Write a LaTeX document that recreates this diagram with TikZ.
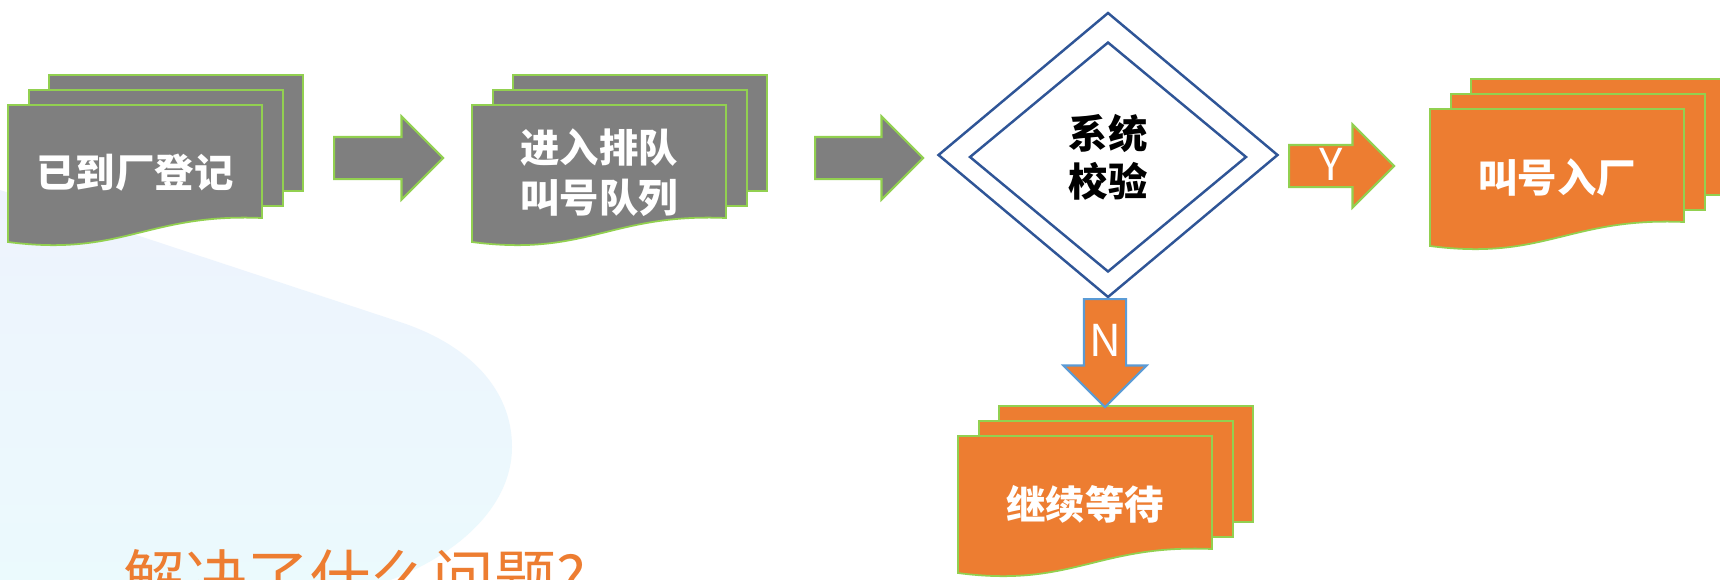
\documentclass[tikz,border=0pt]{standalone}
\usepackage{fontspec}
\newfontfamily\cjk{Noto Sans CJK SC}
\usetikzlibrary{shapes.geometric,shapes.arrows}

\definecolor{docgrey}{HTML}{7F7F7F}
\definecolor{docgreen}{HTML}{92D050}
\definecolor{docorange}{HTML}{ED7D31}
\definecolor{nblue}{HTML}{5B9BD5}
\definecolor{checkblue}{HTML}{2F5597}
\definecolor{blobtop}{HTML}{EEF3FD}
\definecolor{blobbottom}{HTML}{EBFAFD}

\newcommand{\docstack}[5]{%
  \draw[sheet,fill=#4] (#2+41,#3-30) rectangle ++(254,116);
  \draw[sheet,fill=#4] (#2+21,#3-15) rectangle ++(254,116);
  \draw[sheet,fill=#4] (#2,#3) -- ++(254,0) -- ++(0,113)
    .. controls +(-115,-5) and (#2+115,#3+152) .. (#2,#3+137) -- cycle;
  \node (#1) at (#2+127,#3+68) [doclabel] {#5};
}

\begin{document}
\begin{tikzpicture}[x=0.1mm,y=-0.1mm,
sheet/.style={draw=docgreen,line width=0.5pt},
doclabel/.style={text=white,align=center,inner sep=0pt,font=\cjk\bfseries\fontsize{11.2}{14.2}\selectfont},
blockarrow/.style={single arrow,single arrow tip angle=90,single arrow head extend=2.05mm,
  inner sep=0pt,text height=3.4mm,text depth=0.6mm,anchor=tail,line width=0.6pt,
  minimum width=8.1mm,text=white,font=\cjk\fontsize{12.5}{12.5}\selectfont},
checkbox/.style={diamond,draw=checkblue,line width=0.7pt,inner sep=0pt}]
\useasboundingbox (0,0) rectangle (1720,579);
\fill[white] (0,0) rectangle (1720,579);
\shade[top color=blobtop,bottom color=blobbottom] (0,190) -- (400,322)
  .. controls (470,345) and (512,390) .. (512,447)
  .. controls (512,510) and (450,565) .. (360,590) -- (0,590) -- cycle;
\node (question) at (123,601) [anchor=base west,inner sep=0pt,text=docorange,
  font=\cjk\fontsize{17.6}{17.6}\selectfont] {解决了什么问题?};

\docstack{arrived}{8}{105}{docgrey}{已到厂登记}
\docstack{queue}{472}{105}{docgrey}{进入排队\\叫号队列}
\docstack{enter}{1430}{109}{docorange}{叫号入厂}
\docstack{wait}{958}{436}{docorange}{继续等待}

\node (check) at (1108,155) [checkbox,minimum width=34mm,minimum height=28.5mm] {};
\node (checkin) at (1108,157) [checkbox,minimum width=27.7mm,minimum height=23mm,
  font=\cjk\bfseries\fontsize{11.2}{13.7}\selectfont,align=center] {系统\\校验};

\node (go1) at (333,158) [blockarrow,fill=docgrey,draw=docgreen,minimum height=10.9mm] {};
\node (go2) at (814,158) [blockarrow,fill=docgrey,draw=docgreen,minimum height=10.8mm] {};
\node (yes) at (1288,166) [blockarrow,fill=docorange,draw=docgreen,minimum height=10.5mm] {Y};
\node (no) at (1105,298) [blockarrow,fill=docorange,draw=nblue,shape border rotate=270,
  text width=4mm,align=center,minimum height=10.8mm] {N};
\end{tikzpicture}
\end{document}
